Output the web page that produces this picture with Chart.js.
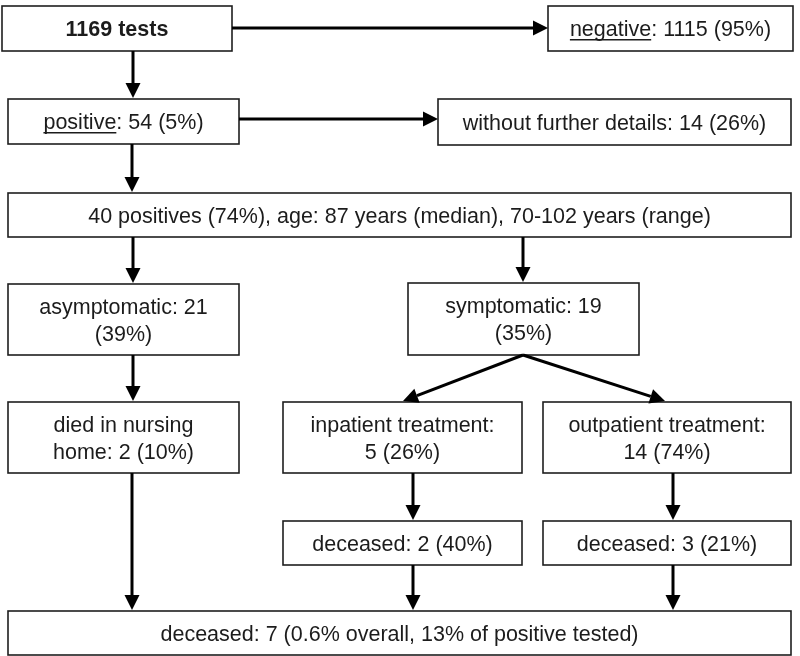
<!DOCTYPE html>
<html>
<head>
<meta charset="utf-8">
<script src="https://cdn.jsdelivr.net/npm/chart.js@4/dist/chart.umd.min.js"></script>
<style>
html,body{margin:0;padding:0;background:#fff;}
#wrap{width:800px;height:656px;}
</style>
</head>
<body>
<div id="wrap"><canvas id="c" width="800" height="656"></canvas></div>
<script>
// ---- content (text of each node, as lines; segments with u:true are underlined) ----
const nodeIds = ['tests','negative','positive','noDetails','positives40','asym','sym','nursing','inpatient','outpatient','decIn','decOut','decTotal'];
const nodeLines = [
  [[{t:'1169 tests', b:true}]],
  [[{t:'negative', u:true},{t:': 1115 (95%)'}]],
  [[{t:'positive', u:true},{t:': 54 (5%)'}]],
  [[{t:'without further details: 14 (26%)'}]],
  [[{t:'40 positives (74%), age: 87 years (median), 70-102 years (range)'}]],
  [[{t:'asymptomatic: 21'}],[{t:'(39%)'}]],
  [[{t:'symptomatic: 19'}],[{t:'(35%)'}]],
  [[{t:'died in nursing'}],[{t:'home: 2 (10%)'}]],
  [[{t:'inpatient treatment:'}],[{t:'5 (26%)'}]],
  [[{t:'outpatient treatment:'}],[{t:'14 (74%)'}]],
  [[{t:'deceased: 2 (40%)'}]],
  [[{t:'deceased: 3 (21%)'}]],
  [[{t:'deceased: 7 (0.6% overall, 13% of positive tested)'}]]
];
// edges: from node -> to node
const edgeFrom = ['tests','tests','positive','positive','positives40','positives40','sym','sym','asym','nursing','inpatient','outpatient','decIn','decOut'];
const edgeTo   = ['negative','positive','noDetails','positives40','asym','sym','inpatient','outpatient','nursing','decTotal','decIn','decOut','decTotal','decTotal'];

// ---- layout (diagram coordinates, kept separate from content) ----
const layout = {
  tests:[2,6,232,51], negative:[548,6,793,51],
  positive:[8,99,239,144], noDetails:[438,99,791,145],
  positives40:[8,193,791,237],
  asym:[8,284,239,355], sym:[408,283,639,355],
  nursing:[8,402,239,473], inpatient:[283,402,522,473], outpatient:[543,402,791,473],
  decIn:[283,521,522,565], decOut:[543,521,791,565],
  decTotal:[8,611,791,655]
};
// anchor points for edges [x1,y1,x2,y2]
const edgeGeom = [
  [232,28,548,28],[133,51,133,98],[239,119,438,119],[132,144,132,192],
  [133,237,133,283],[523,237,523,282],[523,355,403,401],[523,355,665,401],
  [133,355,133,401],[132,473,132,610],[413,473,413,520],[673,473,673,520],
  [413,565,413,610],[673,565,673,610]
];

const FONT = "'Liberation Sans', Arial, sans-serif";
const FS = 21.5;

const flowPlugin = {
  id:'flow',
  afterDraw(chart){
    const ctx = chart.ctx, xs = chart.scales.x, ys = chart.scales.y;
    const X = v => xs.getPixelForValue(v), Y = v => ys.getPixelForValue(v);
    ctx.save();
    // boxes
    nodeIds.forEach((id,i)=>{
      const [x0,y0,x1,y1] = layout[id];
      const px0=X(x0), py0=Y(y0), px1=X(x1), py1=Y(y1);
      ctx.fillStyle='#fff';
      ctx.fillRect(px0,py0,px1-px0,py1-py0);
      ctx.strokeStyle='#1e1e1e'; ctx.lineWidth=1.6;
      ctx.strokeRect(px0,py0,px1-px0,py1-py0);
      const lines = nodeLines[i];
      const lh = 27;
      const cx=(px0+px1)/2, cy=(py0+py1)/2;
      lines.forEach((segs,li)=>{
        const ly = cy + (li-(lines.length-1)/2)*lh + 7.5;
        let total=0;
        segs.forEach(s=>{ctx.font=(s.b?'bold ':'')+FS+'px '+FONT; s.w=ctx.measureText(s.t).width; total+=s.w;});
        let x = cx-total/2;
        ctx.textBaseline='alphabetic'; ctx.textAlign='left';
        segs.forEach(s=>{
          ctx.font=(s.b?'bold ':'')+FS+'px '+FONT;
          ctx.fillStyle='#1c1c1c';
          ctx.fillText(s.t,x,ly);
          if(s.u){ctx.fillRect(x,ly+3,s.w,1.5);}
          x+=s.w;
        });
      });
    });
    // arrows
    edgeGeom.forEach(g=>{
      const x1=X(g[0]), y1=Y(g[1]), x2=X(g[2]), y2=Y(g[3]);
      const ang=Math.atan2(y2-y1,x2-x1), hl=15, hw=7.5;
      const bx=x2-hl*Math.cos(ang), by=y2-hl*Math.sin(ang);
      ctx.strokeStyle='#000'; ctx.lineWidth=3; ctx.lineCap='butt';
      ctx.beginPath(); ctx.moveTo(x1,y1); ctx.lineTo(bx,by); ctx.stroke();
      ctx.fillStyle='#000';
      ctx.beginPath();
      ctx.moveTo(x2,y2);
      ctx.lineTo(bx+hw*Math.sin(ang), by-hw*Math.cos(ang));
      ctx.lineTo(bx-hw*Math.sin(ang), by+hw*Math.cos(ang));
      ctx.closePath(); ctx.fill();
    });
    ctx.restore();
  }
};

new Chart(document.getElementById('c'),{
  type:'scatter',
  data:{datasets:[{label:'nodes',
    data:nodeIds.map(id=>({x:(layout[id][0]+layout[id][2])/2,y:(layout[id][1]+layout[id][3])/2})),
    pointRadius:0}]},
  options:{
    responsive:false, animation:false,
    layout:{padding:0},
    plugins:{legend:{display:false},tooltip:{enabled:false}},
    scales:{
      x:{type:'linear',min:0,max:800,display:false},
      y:{type:'linear',min:0,max:656,reverse:true,display:false}
    }
  },
  plugins:[flowPlugin]
});
</script>
</body>
</html>
